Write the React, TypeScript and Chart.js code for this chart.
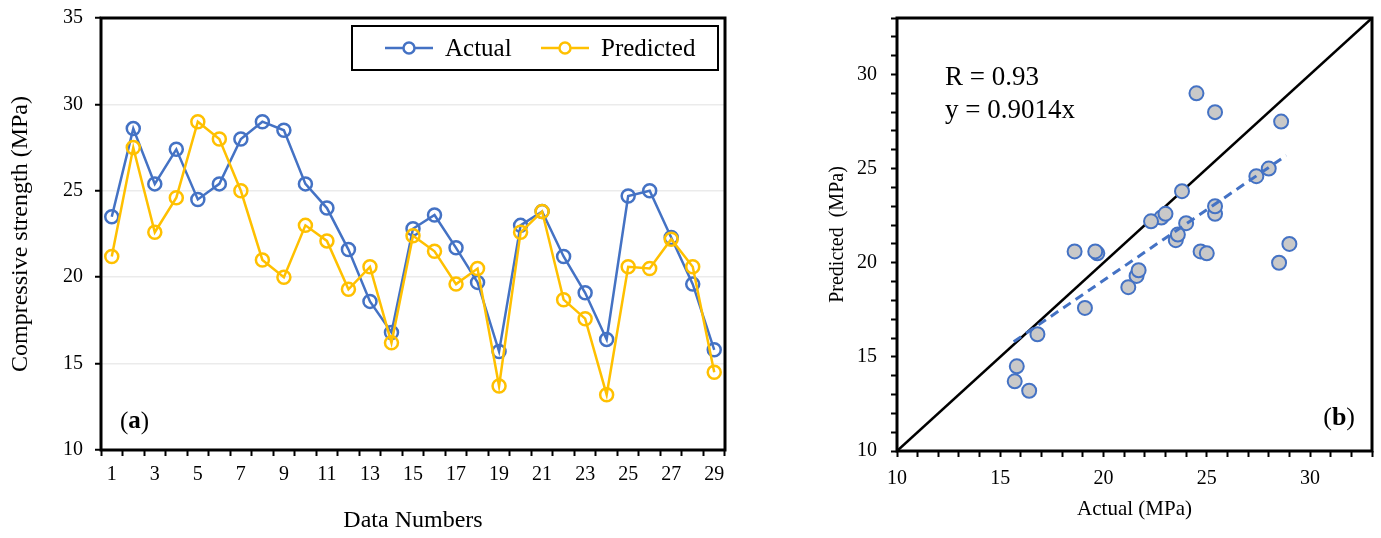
import React, { useEffect, useRef } from 'react';
import { Chart, registerables } from 'chart.js';

Chart.register(...registerables);

const FONT = "'Liberation Serif', 'Times New Roman', serif";
const BLUE = '#4472C4';
const YELLOW = '#FFC000';

// ---- data ----
const dataNumbers = ['1', '2', '3', '4', '5', '6', '7', '8', '9', '10', '11', '12', '13', '14', '15',
  '16', '17', '18', '19', '20', '21', '22', '23', '24', '25', '26', '27', '28', '29'];
const actual = [23.5, 28.6, 25.4, 27.4, 24.5, 25.4, 28.0, 29.0, 28.5, 25.4, 24.0, 21.6, 18.6, 16.8, 22.8,
  23.6, 21.7, 19.7, 15.7, 23.0, 23.8, 21.2, 19.1, 16.4, 24.7, 25.0, 22.3, 19.6, 15.8];
const predicted = [21.2, 27.5, 22.6, 24.6, 29.0, 28.0, 25.0, 21.0, 20.0, 23.0, 22.1, 19.3, 20.6, 16.2, 22.4,
  21.5, 19.6, 20.5, 13.7, 22.6, 23.8, 18.7, 17.6, 13.2, 20.6, 20.5, 22.2, 20.6, 14.5];
const identityX = [10, 33];
const identityY = [10, 33];
const trendX = [15.65, 28.85];
const trendY = [15.8, 25.7];
const rLabel = 'R = 0.93';
const eqLabel = 'y = 0.9014x';

const framePlugin = {
  id: 'frame',
  afterDatasetsDraw(chart: any) {
    const { ctx, chartArea: a } = chart;
    ctx.save();
    ctx.strokeStyle = '#000';
    ctx.lineWidth = 3;
    ctx.strokeRect(a.left, a.top, a.right - a.left, a.bottom - a.top);
    ctx.restore();
  },
};

function drawPanelLabel(ctx: CanvasRenderingContext2D, letter: string, x: number, y: number, size: number, alignRight: boolean) {
  const normal = `${size}px ${FONT}`;
  const bold = `bold ${size}px ${FONT}`;
  ctx.font = normal;
  const w1 = ctx.measureText('(').width;
  const w3 = ctx.measureText(')').width;
  ctx.font = bold;
  const w2 = ctx.measureText(letter).width;
  const sx = alignRight ? x - (w1 + w2 + w3) : x;
  ctx.textAlign = 'left';
  ctx.textBaseline = 'middle';
  ctx.fillStyle = '#000';
  ctx.font = normal;
  ctx.fillText('(', sx, y);
  ctx.font = bold;
  ctx.fillText(letter, sx + w1, y);
  ctx.font = normal;
  ctx.fillText(')', sx + w1 + w2, y);
}

const leftDecor = {
  id: 'leftDecor',
  afterDraw(chart: any) {
    const { ctx, chartArea: a } = chart;
    ctx.save();
    // legend box
    const boxW = 366, boxH = 44;
    const boxR = a.right - 7, boxT = a.top + 8;
    const boxL = boxR - boxW;
    ctx.fillStyle = '#fff';
    ctx.fillRect(boxL, boxT, boxW, boxH);
    ctx.strokeStyle = '#000';
    ctx.lineWidth = 2;
    ctx.strokeRect(boxL, boxT, boxW, boxH);
    const cy = boxT + boxH / 2;
    const offsets = [33, 189];
    chart.data.datasets.forEach((ds: any, i: number) => {
      const x0 = boxL + offsets[i];
      ctx.strokeStyle = ds.borderColor;
      ctx.lineWidth = 2.5;
      ctx.beginPath();
      ctx.moveTo(x0, cy);
      ctx.lineTo(x0 + 48, cy);
      ctx.stroke();
      ctx.beginPath();
      ctx.arc(x0 + 24, cy, 5.5, 0, Math.PI * 2);
      ctx.fillStyle = '#fff';
      ctx.fill();
      ctx.stroke();
      ctx.fillStyle = '#000';
      ctx.font = `25px ${FONT}`;
      ctx.textAlign = 'left';
      ctx.textBaseline = 'middle';
      ctx.fillText(ds.label, x0 + 60, cy + 1);
    });
    drawPanelLabel(ctx, 'a', a.left + 19, a.bottom - 28, 25, false);
    ctx.restore();
  },
};

const rightDecor = {
  id: 'rightDecor',
  afterDraw(chart: any) {
    const { ctx, chartArea: a } = chart;
    ctx.save();
    ctx.fillStyle = '#000';
    ctx.font = `27px ${FONT}`;
    ctx.textAlign = 'left';
    ctx.textBaseline = 'middle';
    ctx.fillText(rLabel, a.left + 48, a.top + 60);
    ctx.fillText(eqLabel, a.left + 48, a.top + 93);
    drawPanelLabel(ctx, 'b', a.right - 17, a.bottom - 33, 26, true);
    ctx.restore();
  },
};

const fixY = (w: number) => (s: any) => { s.width = w; s.paddingTop = 0; s.paddingBottom = 0; };
const fixX = (h: number) => (s: any) => { s.height = h; s.paddingLeft = 0; s.paddingRight = 0; };

function LeftChart() {
  const ref = useRef<HTMLCanvasElement>(null);
  useEffect(() => {
    const chart = new Chart(ref.current!, {
      type: 'line',
      data: {
        labels: dataNumbers,
        datasets: [
          {
            label: 'Actual',
            data: actual,
            borderColor: BLUE,
            backgroundColor: 'rgba(0,0,0,0)',
            borderWidth: 2.5,
            pointRadius: 6.5,
            pointBorderWidth: 2.5,
            pointBackgroundColor: 'rgba(255,255,255,0)',
            pointBorderColor: BLUE,
            tension: 0,
            order: 1,
          },
          {
            label: 'Predicted',
            data: predicted,
            borderColor: YELLOW,
            backgroundColor: 'rgba(0,0,0,0)',
            borderWidth: 2.5,
            pointRadius: 6.5,
            pointBorderWidth: 2.5,
            pointBackgroundColor: 'rgba(255,255,255,0)',
            pointBorderColor: YELLOW,
            tension: 0,
            order: 0,
          },
        ],
      },
      options: {
        animation: false,
        responsive: false,
        maintainAspectRatio: false,
        layout: { padding: { top: 18, right: 35, left: 0, bottom: 0 } },
        plugins: { legend: { display: false }, tooltip: { enabled: false } },
        scales: {
          x: {
            type: 'category',
            offset: true,
            grid: { offset: true, drawOnChartArea: false, drawTicks: true, tickLength: 6, tickColor: '#000', tickWidth: 2 },
            border: { display: false },
            ticks: {
              autoSkip: false,
              maxRotation: 0,
              color: '#000',
              padding: 7,
              font: { family: FONT, size: 20 },
              callback: (_v: any, i: number) => (i % 2 === 0 ? dataNumbers[i] : ''),
            },
            title: { display: true, text: 'Data Numbers', color: '#000', font: { family: FONT, size: 24 }, padding: { top: 0, bottom: 3 } },
            afterFit: fixX(88),
          },
          y: {
            min: 10,
            max: 35,
            ticks: { stepSize: 5, color: '#000', padding: 12, font: { family: FONT, size: 20 } },
            grid: { color: '#ebebeb', lineWidth: 1.5, drawTicks: true, tickLength: 6, tickColor: '#000', tickWidth: 2 },
            border: { display: false },
            title: { display: true, text: 'Compressive strength (MPa)', color: '#000', font: { family: FONT, size: 24 }, padding: { top: 6, bottom: 0 } },
            afterFit: fixY(101),
          },
        },
      },
      plugins: [framePlugin, leftDecor],
    } as any);
    return () => chart.destroy();
  }, []);
  return <canvas ref={ref} width={760} height={538} style={{ position: 'absolute', left: 0, top: 0, width: 760, height: 538 }} />;
}

function RightChart() {
  const ref = useRef<HTMLCanvasElement>(null);
  useEffect(() => {
    const points = actual.map((v, i) => ({ x: v, y: predicted[i] }));
    const identity = identityX.map((v, i) => ({ x: v, y: identityY[i] }));
    const trend = trendX.map((v, i) => ({ x: v, y: trendY[i] }));
    const chart = new Chart(ref.current!, {
      type: 'scatter',
      data: {
        datasets: [
          {
            label: 'Identity',
            data: identity,
            showLine: true,
            borderColor: '#000',
            borderWidth: 2.5,
            pointRadius: 0,
            order: 3,
          },
          {
            label: 'Data',
            data: points,
            pointRadius: 7,
            pointBorderWidth: 2,
            pointBackgroundColor: '#C9C9C9',
            pointBorderColor: BLUE,
            order: 2,
          },
          {
            label: 'Trend',
            data: trend,
            showLine: true,
            borderColor: BLUE,
            borderWidth: 3,
            borderDash: [9, 6],
            pointRadius: 0,
            order: 1,
          },
        ],
      },
      options: {
        animation: false,
        responsive: false,
        maintainAspectRatio: false,
        layout: { padding: { top: 18, right: 9, left: 0, bottom: 0 } },
        plugins: { legend: { display: false }, tooltip: { enabled: false } },
        scales: {
          x: {
            type: 'linear',
            min: 10,
            max: 33,
            grid: { drawOnChartArea: false, drawTicks: true, tickLength: 6, tickColor: '#000', tickWidth: 2 },
            border: { display: false },
            ticks: {
              stepSize: 1,
              autoSkip: false,
              maxRotation: 0,
              color: '#000',
              padding: 10,
              font: { family: FONT, size: 20 },
              callback: (v: any) => (v % 5 === 0 && v <= 30 ? String(v) : ''),
            },
            title: { display: true, text: 'Actual (MPa)', color: '#000', font: { family: FONT, size: 21 }, padding: { top: 0, bottom: 16 } },
            afterFit: fixX(87),
          },
          y: {
            type: 'linear',
            min: 10,
            max: 33,
            grid: { drawOnChartArea: false, drawTicks: true, tickLength: 6, tickColor: '#000', tickWidth: 2 },
            border: { display: false },
            ticks: {
              stepSize: 1,
              autoSkip: false,
              color: '#000',
              padding: 14,
              font: { family: FONT, size: 20 },
              callback: (v: any) => (v % 5 === 0 && v <= 30 ? String(v) : ''),
            },
            title: { display: true, text: 'Predicted  (MPa)', color: '#000', font: { family: FONT, size: 20 }, padding: { top: 26, bottom: 0 } },
            afterFit: fixY(97),
          },
        },
      },
      plugins: [framePlugin, rightDecor],
    } as any);
    return () => chart.destroy();
  }, []);
  return <canvas ref={ref} width={581} height={538} style={{ position: 'absolute', left: 800, top: 0, width: 581, height: 538 }} />;
}

export default function App() {
  return (
    <div style={{ position: 'absolute', left: 0, top: 0, width: 1381, height: 538, background: '#fff', overflow: 'hidden' }}>
      <LeftChart />
      <RightChart />
    </div>
  );
}
